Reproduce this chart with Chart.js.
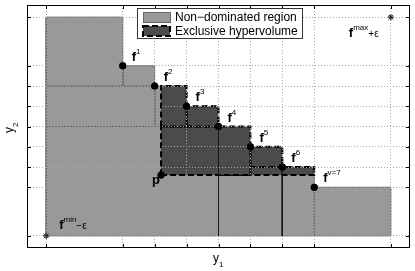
<!DOCTYPE html>
<html>
<head>
<meta charset="utf-8">
<script src="https://cdn.jsdelivr.net/npm/chart.js@4/dist/chart.umd.min.js"></script>
<style>
html, body { margin: 0; padding: 0; background: #fff; }
canvas { display: block; }
</style>
</head>
<body>
<canvas id="chart" width="415" height="271"></canvas>
<script>
const $ = id => document.getElementById(id);

// tick positions (f^min-e, the front values, f^max+e)
const xTicks = [-1.4, 1, 2, 3, 4, 5, 6, 7, 9.4];
const yTicks = [-1.4, 1, 2, 3, 4, 5, 6, 7, 9.4];

// front f^1 ... f^7
const frontX = [1, 2, 3, 4, 5, 6, 7];
const frontY = [7, 6, 5, 4, 3, 2, 1];
const frontNames = ['1', '2', '3', '4', '5', '6', 'v=7'];

const pointP = [2.2, 1.6];
const fMin = [-1.4, -1.4];
const fMax = [9.4, 9.4];

// rectangles [x0, x1, y0, y1]
const lightRects = [
    [-1.4, 1, 6, 9.4],
    [1, 2, 6, 7],
    [-1.4, 2, 4, 6],
    [2, 3, 4, 6],
    [-1.4, 4, -1.4, 4],
    [4, 6, -1.4, 2],
    [6, 7, -1.4, 2],
    [7, 9.4, -1.4, 1]
];
const darkRects = [
    [2.2, 3, 4, 6],
    [3, 4, 4, 5],
    [2.2, 5, 1.6, 4],
    [5, 6, 2, 3],
    [4, 7, 1.6, 2]
];
// vertical lines from front points down to f^min
const dropX = [4, 6];
const dropTop = [4, 2];

const FONT = '"Liberation Sans", Arial, Helvetica, sans-serif';
const LIGHT = '#999999';
const DARK = '#4b4b4b';

const rectPath = r => [
    {x: r[0], y: r[2]}, {x: r[1], y: r[2]}, {x: r[1], y: r[3]},
    {x: r[0], y: r[3]}, {x: r[0], y: r[2]}
];

const datasets = [];
lightRects.forEach(r => datasets.push({
    data: rectPath(r),
    borderColor: '#666666',
    borderWidth: 1,
    backgroundColor: LIGHT,
    fill: 'shape',
    pointRadius: 0,
    order: 30
}));
darkRects.forEach(r => datasets.push({
    data: rectPath(r),
    borderColor: '#000000',
    borderWidth: 2,
    borderDash: [6, 3],
    backgroundColor: DARK,
    fill: 'shape',
    pointRadius: 0,
    order: 20
}));
dropX.forEach((x, i) => datasets.push({
    data: [{x: x, y: dropTop[i]}, {x: x, y: fMin[1]}],
    borderColor: '#1a1a1a',
    borderWidth: 1,
    fill: false,
    pointRadius: 0,
    order: 10
}));
datasets.push({
    data: frontX.map((x, i) => ({x: x, y: frontY[i]})).concat([{x: pointP[0], y: pointP[1]}]),
    showLine: false,
    pointRadius: 3.5,
    pointBackgroundColor: '#000',
    pointBorderColor: '#000',
    pointBorderWidth: 0,
    order: 0
});
datasets.push({
    data: [{x: fMin[0], y: fMin[1]}, {x: fMax[0], y: fMax[1]}],
    showLine: false,
    pointStyle: 'star',
    pointRadius: 3,
    pointBorderColor: '#333',
    pointBorderWidth: 1,
    order: 0
});

const drawParts = (ctx, parts, x, y) => {
    let cx = x;
    parts.forEach(([t, font, dy]) => {
        ctx.font = font;
        ctx.fillText(t, cx, y + dy);
        cx += ctx.measureText(t).width;
    });
};

const overlay = {
    id: 'overlay',
    afterDraw(chart) {
        const ctx = chart.ctx;
        const {left, right, top, bottom} = chart.chartArea;
        const xs = chart.scales.x, ys = chart.scales.y;
        // lines and markers go back on top of the dotted grid
        chart.data.datasets.forEach((ds, i) => {
            if (ds.order <= 10) chart.getDatasetMeta(i).controller.draw();
        });
        ctx.save();
        // axes box
        ctx.strokeStyle = '#000';
        ctx.lineWidth = 1;
        ctx.strokeRect(left + 0.5, top + 0.5, right - left - 1, bottom - top - 1);
        // inward ticks
        ctx.beginPath();
        xTicks.forEach(v => {
            const px = Math.round(xs.getPixelForValue(v)) + 0.5;
            ctx.moveTo(px, top); ctx.lineTo(px, top + 4);
            ctx.moveTo(px, bottom); ctx.lineTo(px, bottom - 4);
        });
        yTicks.forEach(v => {
            const py = Math.round(ys.getPixelForValue(v)) + 0.5;
            ctx.moveTo(left, py); ctx.lineTo(left + 4, py);
            ctx.moveTo(right, py); ctx.lineTo(right - 4, py);
        });
        ctx.stroke();

        // point labels
        ctx.fillStyle = '#000';
        ctx.textBaseline = 'alphabetic';
        const bold = 'bold 13px ' + FONT;
        const sup = '8px ' + FONT;
        frontX.forEach((x, i) => {
            const px = xs.getPixelForValue(x), py = ys.getPixelForValue(frontY[i]);
            drawParts(ctx, [['f', bold, 0], [frontNames[i], sup, -7]], px + 9, py - 5);
        });
        const mxp = xs.getPixelForValue(fMax[0]), myp = ys.getPixelForValue(fMax[1]);
        drawParts(ctx, [['f', bold, 0], ['max', sup, -7], ['+ε', '10px ' + FONT, 0]], mxp - 42, myp + 20);
        const nxp = xs.getPixelForValue(fMin[0]), nyp = ys.getPixelForValue(fMin[1]);
        drawParts(ctx, [['f', bold, 0], ['min', sup, -7], ['−ε', '10px ' + FONT, 0]], nxp + 13, nyp - 7);
        ctx.font = bold;
        ctx.fillText('p', xs.getPixelForValue(pointP[0]) - 9, ys.getPixelForValue(pointP[1]) + 9);

        // legend
        ctx.fillStyle = '#fff';
        ctx.fillRect(137, 8, 165, 30);
        ctx.strokeStyle = '#333';
        ctx.lineWidth = 1;
        ctx.strokeRect(137.5, 8.5, 165, 30);
        ctx.fillStyle = LIGHT;
        ctx.fillRect(143, 12, 27, 10);
        ctx.strokeStyle = '#666';
        ctx.strokeRect(143.5, 12.5, 27, 10);
        ctx.fillStyle = DARK;
        ctx.fillRect(143, 26, 27, 10);
        ctx.strokeStyle = '#000';
        ctx.lineWidth = 2;
        ctx.setLineDash([6, 3]);
        ctx.strokeRect(143, 26, 27, 10);
        ctx.setLineDash([]);
        ctx.fillStyle = '#000';
        ctx.font = '12px ' + FONT;
        ctx.textBaseline = 'middle';
        ctx.fillText('Non−dominated region', 175, 17.5);
        ctx.fillText('Exclusive hypervolume', 175, 31.5);

        // axis titles
        ctx.textBaseline = 'alphabetic';
        drawParts(ctx, [['y', '12px ' + FONT, 0], ['1', '8px ' + FONT, 5]], 213, 262);
        ctx.translate(13, 133);
        ctx.rotate(-Math.PI / 2);
        drawParts(ctx, [['y', '12px ' + FONT, 0], ['2', '8px ' + FONT, 5]], 0, 0);
        ctx.restore();
    }
};

const gridScale = (ticks) => ({
    type: 'linear',
    min: -2,
    max: 10,
    afterBuildTicks: scale => { scale.ticks = ticks.map(v => ({value: v})); },
    ticks: {display: false},
    grid: {color: '#a8a8a8', lineWidth: 1, drawTicks: false, z: 1},
    border: {display: false, dash: [1, 2]}
});

new Chart($('chart').getContext('2d'), {
    type: 'line',
    data: {datasets: datasets},
    options: {
        responsive: false,
        devicePixelRatio: 1,
        animation: false,
        events: [],
        layout: {padding: {left: 27, top: 3, right: 3, bottom: 23}},
        plugins: {legend: {display: false}, tooltip: {enabled: false}},
        scales: {
            x: gridScale(xTicks),
            y: gridScale(yTicks)
        }
    },
    plugins: [overlay]
});
</script>
</body>
</html>
